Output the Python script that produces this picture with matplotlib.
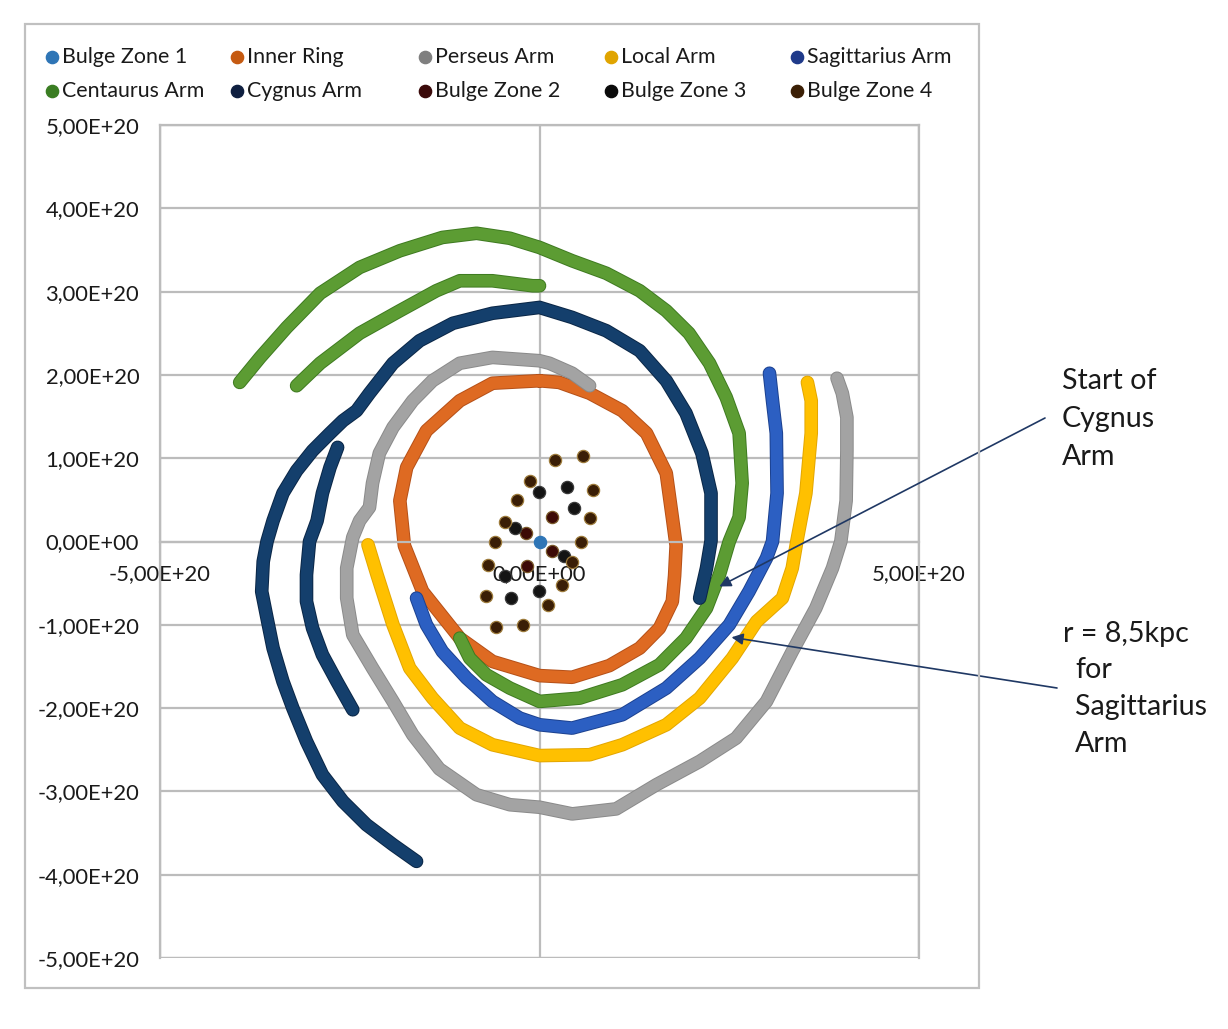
import matplotlib
matplotlib.use('Agg')
import matplotlib.pyplot as plt
import matplotlib.patheffects as pe
from matplotlib.patches import Rectangle
from matplotlib.lines import Line2D
from matplotlib.ticker import FuncFormatter, FixedLocator
import numpy as np

plt.rcParams['font.family'] = ['Lato', 'DejaVu Sans']

UNIT = 1e20  # values below are in units of 1e20

# ---------------- data (units of 1e20) ----------------
bulge1_x = [0.0]
bulge1_y = [0.0]

inner_ring_x = [0, 0.26, 0.66, 1.09, 1.41, 1.67, 1.75, 1.80, 1.78, 1.75, 1.58, 1.32, 0.92, 0.43, 0,
                -0.62, -1.05, -1.54, -1.78, -1.84, -1.75, -1.49, -1.05, -0.62, 0]
inner_ring_y = [1.93, 1.91, 1.78, 1.57, 1.30, 0.82, 0.29, -0.05, -0.41, -0.72, -1.04, -1.28, -1.49, -1.63, -1.61,
                -1.44, -1.16, -0.60, -0.05, 0.49, 0.89, 1.33, 1.69, 1.90, 1.93]

perseus_x = [0.66, 0.43, 0.13, 0, -0.62, -1.05, -1.41, -1.67, -1.93, -2.11, -2.20, -2.24, -2.37, -2.46,
             -2.54, -2.54, -2.46, -2.20, -1.93, -1.67, -1.32, -0.83, -0.39, 0, 0.43, 1.01, 1.54, 2.11,
             2.59, 2.99, 3.33, 3.64, 3.86, 3.97, 4.04, 4.05, 4.05, 3.99, 3.92]
perseus_y = [1.87, 2.02, 2.14, 2.17, 2.21, 2.14, 1.93, 1.69, 1.37, 1.06, 0.70, 0.41, 0.25, 0.05,
             -0.32, -0.68, -1.12, -1.52, -1.92, -2.32, -2.73, -3.04, -3.16, -3.19, -3.27, -3.21, -2.92, -2.64,
             -2.36, -1.92, -1.32, -0.80, -0.32, 0, 0.49, 1.09, 1.49, 1.78, 1.96]

local_x = [-2.26, -2.14, -1.93, -1.71, -1.41, -1.05, -0.62, 0, 0.66, 1.09, 1.67, 2.11, 2.54, 2.86,
           3.20, 3.33, 3.39, 3.51, 3.58, 3.58, 3.53]
local_y = [-0.04, -0.40, -1.00, -1.52, -1.88, -2.24, -2.44, -2.57, -2.56, -2.44, -2.20, -1.88, -1.40, -0.96,
           -0.68, -0.32, 0, 0.58, 1.30, 1.69, 1.91]

sagittarius_x = [-1.62, -1.49, -1.28, -0.96, -0.62, -0.26, 0, 0.43, 1.09, 1.67, 2.11, 2.50, 2.76, 2.99,
                 3.07, 3.13, 3.12, 3.07, 3.03]
sagittarius_y = [-0.68, -1.00, -1.32, -1.64, -1.92, -2.12, -2.20, -2.24, -2.08, -1.76, -1.40, -1.00, -0.60, -0.20,
                 0, 0.58, 1.30, 1.69, 2.02]

centaurus_x = [0, -0.09, -0.62, -1.05, -1.36, -1.84, -2.37, -2.89, -3.20, np.nan,
               -3.95, -3.68, -3.33, -2.89, -2.37, -1.84, -1.28, -0.83, -0.39, 0, 0.43, 0.88, 1.32, 1.67,
               1.97, 2.24, 2.46, 2.63, 2.67, 2.63, 2.50, 2.37, 2.20, 1.93, 1.58, 1.09, 0.53, 0,
               -0.39, -0.70, -0.92, -1.05]
centaurus_y = [3.07, 3.07, 3.13, 3.13, 3.01, 2.77, 2.50, 2.14, 1.87, np.nan,
               1.91, 2.21, 2.57, 2.98, 3.29, 3.49, 3.65, 3.70, 3.64, 3.53, 3.37, 3.22, 3.01, 2.77,
               2.50, 2.14, 1.73, 1.30, 0.70, 0.29, 0, -0.40, -0.80, -1.16, -1.48, -1.72, -1.88, -1.92,
               -1.76, -1.60, -1.40, -1.16]

cygnus_x = [-2.46, -2.67, -2.86, -2.99, -3.07, -3.07, -3.03, -2.93, -2.86, -2.76, -2.66, np.nan,
            -1.62, -1.93, -2.28, -2.59, -2.86, -3.07, -3.25, -3.38, -3.51, -3.59, -3.66, -3.64, -3.59,
            -3.51, -3.38, -3.20, -2.99, -2.76, -2.59, -2.41, -2.24, -1.93, -1.58, -1.14, -0.62, 0,
            0.43, 0.88, 1.32, 1.67, 1.93, 2.14, 2.26, 2.26, 2.20, 2.11]
cygnus_y = [-2.02, -1.68, -1.36, -1.04, -0.72, -0.40, 0, 0.25, 0.58, 0.89, 1.13, np.nan,
            -3.84, -3.64, -3.40, -3.12, -2.80, -2.40, -2.00, -1.68, -1.28, -0.92, -0.60, -0.24, 0,
            0.25, 0.58, 0.85, 1.09, 1.30, 1.45, 1.57, 1.78, 2.14, 2.41, 2.62, 2.74, 2.81,
            2.69, 2.53, 2.29, 1.93, 1.54, 1.06, 0.58, 0.01, -0.32, -0.68]

bulge2_x = [-0.18, 0.17, 0.17, -0.17]
bulge2_y = [0.10, 0.29, -0.11, -0.30]

bulge3_x = [-0.32, -0.01, 0.36, 0.46, 0.32, -0.46, -0.37, -0.01]
bulge3_y = [0.16, 0.59, 0.66, 0.40, -0.18, -0.42, -0.68, -0.60]

bulge4_x = [0.20, 0.57, -0.12, 0.71, -0.30, 0.67, -0.46, 0.55, -0.58, 0.43, -0.68, 0.30, -0.70, 0.11, -0.57, -0.22]
bulge4_y = [0.98, 1.03, 0.73, 0.62, 0.50, 0.28, 0.24, -0.01, -0.01, -0.25, -0.28, -0.52, -0.65, -0.76, -1.03, -1.00]

series_names = ['Bulge Zone 1', 'Inner Ring', 'Perseus Arm', 'Local Arm', 'Sagittarius Arm',
                'Centaurus Arm', 'Cygnus Arm', 'Bulge Zone 2', 'Bulge Zone 3', 'Bulge Zone 4']
legend_colors = ['#2E75B6', '#C55A11', '#7F7F7F', '#E0A400', '#1F3A8A',
                 '#3A7D22', '#0F1F40', '#3B0A0A', '#0A0A0A', '#3B1F05']

x_ticks = [-5, 0, 5]
y_ticks = [-5, -4, -3, -2, -1, 0, 1, 2, 3, 4, 5]

# ---------------- figure ----------------
W, H = 1228, 1029
fig = plt.figure(figsize=(W / 100, H / 100), dpi=100)
fig.patch.set_facecolor('white')

def fx(px):
    return px / W

def fy(py):
    return 1 - py / H

# outer chart border
fig.patches.append(Rectangle((fx(25), fy(988)), fx(979) - fx(25), fy(24) - fy(988),
                             transform=fig.transFigure, fill=False, ec='#C0C0C0', lw=1.6, zorder=0))

ax = fig.add_axes([fx(160), fy(958), fx(919) - fx(160), fy(125) - fy(958)])
ax.set_xlim(-5 * UNIT, 5 * UNIT)
ax.set_ylim(-5 * UNIT, 5 * UNIT)

grid_c = '#BCBCBC'
for s in ['top', 'left', 'right']:
    ax.spines[s].set_color(grid_c)
    ax.spines[s].set_linewidth(1.6)
ax.spines['bottom'].set_position(('data', 0))
ax.spines['bottom'].set_color(grid_c)
ax.spines['bottom'].set_linewidth(1.6)
ax.add_patch(Rectangle((0, 0), 1, 1, transform=ax.transAxes, fill=False, ec=grid_c, lw=1.6, zorder=0.5))

def excel_fmt(v, pos=None):
    s = f"{v:.2E}".replace('.', ',')
    if s.startswith('-0,00') or s.startswith('0,00'):
        return '0,00E+00'
    return s

tick_fs = 15.8
ax.xaxis.set_major_locator(FixedLocator([t * UNIT for t in x_ticks]))
ax.yaxis.set_major_locator(FixedLocator([t * UNIT for t in y_ticks]))
ax.xaxis.set_major_formatter(FuncFormatter(excel_fmt))
ax.yaxis.set_major_formatter(FuncFormatter(excel_fmt))
ax.tick_params(axis='both', length=0, labelsize=tick_fs, colors='#1a1a1a')
ax.tick_params(axis='x', pad=16)
ax.tick_params(axis='y', pad=15)
ax.grid(True, color=grid_c, lw=1.6, zorder=0)
ax.set_axisbelow(True)

lw_in = 8.4
lw_out = 9.8

def arm(xs, ys, color, edge, z):
    xs = np.array(xs, dtype=float) * UNIT
    ys = np.array(ys, dtype=float) * UNIT
    ax.plot(xs, ys, color=color, lw=lw_in, solid_capstyle='round', solid_joinstyle='round', zorder=z,
            path_effects=[pe.Stroke(linewidth=lw_out, foreground=edge), pe.Normal()])

arm(inner_ring_x, inner_ring_y, '#DE6A22', '#B55018', 2)
arm(perseus_x, perseus_y, '#A3A3A3', '#8A8A8A', 3)
arm(local_x, local_y, '#FFC000', '#E3A600', 4)
arm(sagittarius_x, sagittarius_y, '#2C5FC2', '#1C418F', 5)
arm(centaurus_x, centaurus_y, '#5C9C33', '#3E7A20', 6)
arm(cygnus_x, cygnus_y, '#143F6C', '#0A2646', 7)

def pts(xs, ys, color, edge, z):
    ax.plot(np.array(xs) * UNIT, np.array(ys) * UNIT, ls='none', marker='o', ms=8.8,
            mfc=color, mec=edge, mew=0.9, zorder=z)

pts(bulge2_x, bulge2_y, '#3D0A06', '#7A5A2A', 9)
pts(bulge3_x, bulge3_y, '#141414', '#3A3A3A', 9)
pts(bulge4_x, bulge4_y, '#3A1E06', '#9C7A3A', 9)
pts(bulge1_x, bulge1_y, '#2E75B6', '#2E75B6', 10)

# ---------------- legend (equal-width columns like Excel) ----------------
col_marker_x = [52, 237, 425, 611, 797]
row_y = [57, 91]
for i, (name, c) in enumerate(zip(series_names, legend_colors)):
    r, cidx = divmod(i, 5)
    mx = col_marker_x[cidx]
    my = row_y[r]
    fig.add_artist(Line2D([fx(mx)], [fy(my)], marker='o', ms=8.8, mfc=c, mec=c,
                          transform=fig.transFigure, ls='none'))
    fig.text(fx(mx + 10), fy(my), name, ha='left', va='center', fontsize=15.4, color='#1a1a1a')

# ---------------- annotations ----------------
arrow_c = '#1F3864'
ax.annotate('', xy=(2.37 * UNIT, -0.54 * UNIT), xytext=(1045, H - 418), textcoords='figure pixels',
            arrowprops=dict(arrowstyle='-|>', color=arrow_c, lw=1.2, mutation_scale=17,
                            shrinkA=0, shrinkB=0), annotation_clip=False, zorder=12)
ax.annotate('', xy=(2.53 * UNIT, -1.15 * UNIT), xytext=(1057, H - 688), textcoords='figure pixels',
            arrowprops=dict(arrowstyle='-|>', color=arrow_c, lw=1.2, mutation_scale=17,
                            shrinkA=0, shrinkB=0), annotation_clip=False, zorder=12)

ann_fs = 20.6
for txt, x, y in [('Start of', 1062, 381), ('Cygnus', 1062, 419), ('Arm', 1062, 457),
                  ('r = 8,5kpc', 1063, 634), ('for', 1075, 670), ('Sagittarius', 1075, 707), ('Arm', 1075, 744)]:
    fig.text(fx(x), fy(y), txt, ha='left', va='center', fontsize=ann_fs, color='#1a1a1a')

fig.savefig('out.png', dpi=100, facecolor='white')
